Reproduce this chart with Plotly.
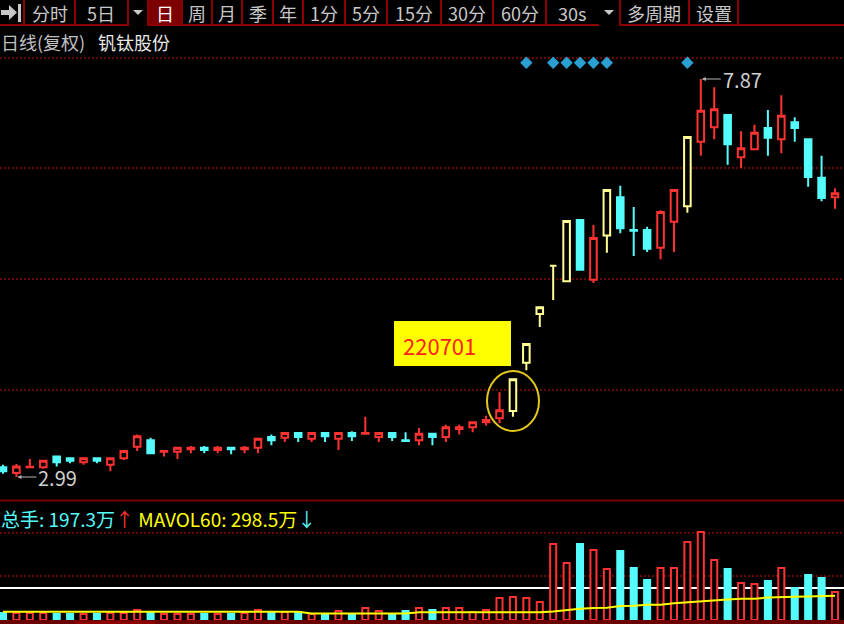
import plotly.graph_objects as go

W, H = 844, 624

# ---------------- data (daily bars, 钒钛股份) ----------------
opens = [3.11, 3.04, 3.11, 3.11, 3.24, 3.22, 3.17, 3.22, 3.14, 3.22,
         3.36, 3.44, 3.30, 3.30, 3.33, 3.35, 3.32, 3.35, 3.33, 3.35,
         3.48, 3.47, 3.53, 3.46, 3.53, 3.46, 3.53, 3.52, 3.48, 3.53,
         3.44, 3.44, 3.52, 3.48, 3.58, 3.60, 3.66, 3.71, 3.80, 4.39,
         4.99, 5.58, 5.39, 6.14, 5.41, 5.95, 6.42, 6.02, 6.02, 5.80,
         6.12, 6.31, 7.10, 7.28, 7.43, 6.91, 7.01, 7.27, 7.13, 7.34,
         7.13, 6.66, 6.42]
highs = [3.14, 3.15, 3.21, 3.19, 3.24, 3.22, 3.22, 3.22, 3.22, 3.31,
         3.51, 3.47, 3.32, 3.35, 3.37, 3.37, 3.37, 3.36, 3.37, 3.47,
         3.51, 3.54, 3.54, 3.53, 3.54, 3.53, 3.55, 3.73, 3.54, 3.53,
         3.54, 3.59, 3.52, 3.63, 3.63, 3.66, 3.74, 4.03, 4.19, 4.62,
         5.07, 5.58, 6.13, 6.15, 6.08, 6.51, 6.56, 6.30, 6.06, 6.26,
         6.51, 7.16, 7.87, 7.77, 7.43, 7.23, 7.31, 7.49, 7.67, 7.40,
         7.13, 6.93, 6.53]
lows = [3.03, 2.99, 3.11, 3.09, 3.12, 3.16, 3.14, 3.16, 3.06, 3.20,
        3.31, 3.27, 3.24, 3.21, 3.28, 3.28, 3.28, 3.27, 3.28, 3.28,
        3.38, 3.42, 3.42, 3.42, 3.42, 3.32, 3.43, 3.51, 3.42, 3.43,
        3.42, 3.38, 3.38, 3.42, 3.51, 3.54, 3.62, 3.65, 3.73, 4.30,
        4.83, 5.16, 5.38, 5.52, 5.37, 5.74, 5.98, 5.70, 5.75, 5.66,
        5.75, 6.23, 6.93, 7.13, 6.82, 6.78, 7.00, 6.93, 6.96, 7.10,
        6.55, 6.37, 6.28]
closes = [3.06, 3.12, 3.115, 3.19, 3.17, 3.19, 3.22, 3.19, 3.22, 3.31,
          3.49, 3.28, 3.31, 3.35, 3.35, 3.32, 3.35, 3.33, 3.35, 3.46,
          3.44, 3.53, 3.48, 3.53, 3.49, 3.53, 3.49, 3.53, 3.53, 3.48,
          3.43, 3.52, 3.48, 3.60, 3.60, 3.66, 3.69, 3.81, 4.19, 4.62,
          5.07, 5.58, 6.13, 5.53, 5.92, 6.51, 6.04, 6.01, 5.79, 6.24,
          6.51, 7.16, 7.48, 7.50, 7.07, 7.02, 7.21, 7.15, 7.42, 7.27,
          6.67, 6.41, 6.47]
# r = rising, c = falling, y = limit-up day
kinds = ['c', 'r', 'r', 'r', 'c', 'c', 'r', 'c', 'r', 'r',
         'r', 'c', 'r', 'r', 'r', 'c', 'r', 'c', 'r', 'r',
         'c', 'r', 'c', 'r', 'c', 'r', 'c', 'r', 'r', 'c',
         'c', 'r', 'c', 'r', 'r', 'r', 'r', 'r', 'y', 'y',
         'y', 'y', 'y', 'c', 'r', 'y', 'c', 'c', 'c', 'r',
         'r', 'y', 'r', 'r', 'c', 'r', 'r', 'c', 'r', 'c',
         'c', 'c', 'r']
# volume (万手)
volumes = [49.4, 49.4, 49.4, 49.4, 42.3, 42.3, 42.3, 42.3, 49.4, 49.4,
           70.5, 49.4, 42.3, 42.3, 42.3, 42.3, 42.3, 42.3, 49.4, 70.5,
           49.4, 56.4, 56.4, 42.3, 42.3, 63.5, 42.3, 84.6, 63.5, 42.3,
           63.5, 84.6, 70.5, 84.6, 84.6, 56.4, 70.5, 155.1, 162.2, 155.1,
           126.9, 535.8, 401.9, 535.8, 493.5, 359.6, 486.5, 366.6, 282.0, 366.6,
           366.6, 549.9, 620.4, 423.0, 359.6, 260.9, 253.8, 275.0, 366.6, 225.6,
           317.3, 296.1, 197.3]
mavol = [58.5, 58.5, 58.5, 58.5, 58.5, 58.5, 58.5, 58.5, 58.5, 58.5,
         58.5, 58.5, 58.5, 58.5, 58.5, 58.5, 58.5, 58.5, 58.5, 58.5,
         58.5, 58.5, 58.5, 46.5, 46.5, 46.5, 46.5, 46.5, 46.5, 46.5,
         46.5, 54.3, 54.3, 54.3, 54.3, 54.3, 54.3, 54.3, 54.3, 54.3,
         54.3, 60.0, 70.5, 79.7, 84.0, 86.7, 98.7, 100.0, 107.9, 108.0,
         118.0, 125.0, 134.0, 143.0, 145.0, 150.0, 150.0, 158.0, 163.0, 164.0,
         166.0, 171.0, 171.0]
mavol60_label = 298.5
vol_ref = 225.6
signal_idx = [39, 41, 42, 43, 44, 45, 51]
signal_level = 8.07
high_idx, high_val = 52, 7.87
low_idx, low_val = 1, 2.99
mark_label = "220701"
stock_name = "钒钛股份"
tabs = ["分时", "5日", "日", "周", "月", "季", "年", "1分", "5分", "15分", "30分", "60分", "30s", "多周期", "设置"]

# ---------------- helpers ----------------
def X(px):
    return px / W

def Y(py):
    return 1 - py / H

FONT = "Noto Sans CJK SC"
RED = "#ff3232"
CYAN = "#54fcfc"
PALEY = "#ffff96"
GRID = "#8c0a0a"
BORDER = "#8b0000"

xs = list(range(len(opens)))
fig = go.Figure()

styles = {'r': (RED, "#000000"), 'c': (CYAN, CYAN), 'y': (PALEY, "#000000")}
for k, (lc, fc) in styles.items():
    idx = [i for i in xs if kinds[i] == k]
    st = dict(line=dict(color=lc, width=2), fillcolor=fc)
    fig.add_trace(go.Candlestick(
        x=idx, open=[opens[i] for i in idx], high=[highs[i] for i in idx],
        low=[lows[i] for i in idx], close=[closes[i] for i in idx],
        increasing=st, decreasing=st, whiskerwidth=0, hoverinfo="skip",
        xaxis="x", yaxis="y"))

fig.add_trace(go.Scatter(x=signal_idx, y=[signal_level] * len(signal_idx), mode="markers",
                         marker=dict(symbol="diamond", size=9.5, color="#2b9ed2"),
                         hoverinfo="skip", xaxis="x", yaxis="y"))

# volume bars
for k in ['up', 'down']:
    idx = [i for i in xs if (kinds[i] == 'c') == (k == 'down')]
    lc = CYAN if k == 'down' else RED
    fc = CYAN if k == 'down' else "#000000"
    fig.add_trace(go.Bar(x=idx, y=[volumes[i] for i in idx], width=0.45,
                         marker=dict(color=fc, line=dict(color=lc, width=2)),
                         hoverinfo="skip", xaxis="x", yaxis="y2"))

fig.add_trace(go.Scatter(x=xs, y=mavol, mode="lines", line=dict(color="#ffff00", width=2),
                         hoverinfo="skip", xaxis="x", yaxis="y2"))

shapes = []
annotations = []

# gridlines
for gy in [58, 168, 279, 390, 533, 576]:
    shapes.append(dict(type="line", xref="paper", yref="paper", x0=0, x1=1, y0=Y(gy), y1=Y(gy),
                       line=dict(color=GRID, width=1.5, dash="2px,2px"), layer="below"))
# panel separator & bottom band
shapes.append(dict(type="line", xref="paper", yref="paper", x0=0, x1=1, y0=Y(500.5), y1=Y(500.5),
                   line=dict(color="#7a0000", width=2)))
shapes.append(dict(type="rect", xref="paper", yref="paper", x0=0, x1=1, y0=Y(624), y1=Y(620),
                   fillcolor="#6a0000", line=dict(width=0)))
shapes.append(dict(type="rect", xref="paper", yref="paper", x0=X(75), x1=X(155), y0=Y(624), y1=Y(621),
                   fillcolor="#8e0000", line=dict(width=0)))
# reference line in volume panel
shapes.append(dict(type="line", xref="paper", yref="y2", x0=0, x1=1, y0=vol_ref, y1=vol_ref,
                   line=dict(color="#ffffff", width=2), layer="below"))

# toolbar
shapes.append(dict(type="rect", xref="paper", yref="paper", x0=0, x1=1, y0=Y(26), y1=Y(24),
                   fillcolor=BORDER, line=dict(width=0)))
shapes.append(dict(type="rect", xref="paper", yref="paper", x0=X(149), x1=X(182), y0=Y(24), y1=Y(0),
                   fillcolor="#7d0000", line=dict(width=0)))
for bx in [24, 75, 128, 148, 182, 212, 242, 273, 303, 345, 387, 441, 493, 546, 620, 689, 738]:
    shapes.append(dict(type="line", xref="paper", yref="paper", x0=X(bx), x1=X(bx), y0=Y(0), y1=Y(25),
                       line=dict(color=BORDER, width=2)))
for (a, b) in [(129, 147), (599, 619)]:
    shapes.append(dict(type="rect", xref="paper", yref="paper", x0=X(a), x1=X(b), y0=Y(27), y1=Y(1),
                       fillcolor="#000000", line=dict(width=0)))
    c = (a + b) / 2
    shapes.append(dict(type="path", xref="paper", yref="paper",
                       path=f"M {X(c-5)},{Y(10)} L {X(c+5)},{Y(10)} L {X(c)},{Y(15)} Z",
                       fillcolor="#c8c8c8", line=dict(width=0)))
# left icon (arrow to bar)
shapes.append(dict(type="path", xref="paper", yref="paper",
                   path=(f"M {X(1)},{Y(10)} L {X(9)},{Y(10)} L {X(9)},{Y(5)} L {X(17)},{Y(12.5)} "
                         f"L {X(9)},{Y(20)} L {X(9)},{Y(15)} L {X(1)},{Y(15)} Z"),
                   fillcolor="#c8c8c8", line=dict(width=0)))
shapes.append(dict(type="rect", xref="paper", yref="paper", x0=X(18), x1=X(21), y0=Y(22), y1=Y(4),
                   fillcolor="#c8c8c8", line=dict(width=0)))

tab_centers = [49.5, 101, 165, 197, 227, 257.5, 288, 324, 366, 414, 467, 520, 572, 654, 714]
for t, cx in zip(tabs, tab_centers):
    annotations.append(dict(x=X(cx), y=Y(12.5), xref="paper", yref="paper", text=t, showarrow=False,
                            xanchor="center", yanchor="middle",
                            font=dict(family=FONT, size=18, color="#ffffff" if t == "日" else "#c8c8c8")))

# second row
annotations.append(dict(x=X(-1), y=Y(42), xref="paper", yref="paper", text="日线(复权)", showarrow=False,
                        xanchor="left", yanchor="middle", font=dict(family=FONT, size=18, color="#c0c0c0")))
annotations.append(dict(x=X(96), y=Y(42), xref="paper", yref="paper", text=stock_name, showarrow=False,
                        xanchor="left", yanchor="middle", font=dict(family=FONT, size=18, color="#e8e8e8")))

# volume label
vol_text = (f"<span style='color:{CYAN}'>总手: {volumes[-1]:.1f}万</span>"
            f"<span style='color:{RED}'>↑</span> "
            f"<span style='color:#ffff00'>MAVOL60: {mavol60_label:.1f}万</span>"
            f"<span style='color:{CYAN}'>↓</span>")
annotations.append(dict(x=X(-1), y=Y(518), xref="paper", yref="paper", text=vol_text, showarrow=False,
                        xanchor="left", yanchor="middle", font=dict(family=FONT, size=19, color=CYAN)))

# high / low markers
for (ix, val) in [(high_idx, high_val), (low_idx, low_val)]:
    annotations.append(dict(x=ix, y=val, xref="x", yref="y", text=f"{val:.2f}", showarrow=True,
                            ax=20, ay=0, arrowhead=2, arrowsize=0.8, arrowwidth=1, arrowcolor="#b4b4b4",
                            standoff=1, xanchor="left", yanchor="middle",
                            font=dict(family=FONT, size=20, color="#d0d0d0")))

# date tag box and circle
shapes.append(dict(type="rect", xref="paper", yref="paper", x0=X(394), x1=X(511), y0=Y(366), y1=Y(321),
                   fillcolor="#ffff00", line=dict(width=0)))
annotations.append(dict(x=X(401), y=Y(345), xref="paper", yref="paper", text=mark_label, showarrow=False,
                        xanchor="left", yanchor="middle", font=dict(family=FONT, size=22, color="#ff2020")))
shapes.append(dict(type="circle", xref="paper", yref="paper", x0=X(487), x1=X(539), y0=Y(431), y1=Y(371),
                   line=dict(color="#e6c81c", width=2)))

fig.update_layout(
    width=W, height=H, margin=dict(l=0, r=0, t=0, b=0),
    paper_bgcolor="#000000", plot_bgcolor="#000000",
    showlegend=False, hovermode=False, barmode="overlay",
    boxgap=0.3, boxgroupgap=0.3,
    xaxis=dict(range=[-0.2236, 62.671], visible=False, rangeslider=dict(visible=False),
               showgrid=False, zeroline=False),
    yaxis=dict(domain=[Y(500), Y(30)], range=[2.708, 8.471], visible=False, showgrid=False, zeroline=False),
    yaxis2=dict(domain=[Y(620), Y(526)], range=[0, 662.7], visible=False, showgrid=False, zeroline=False,
                anchor="x"),
    shapes=shapes, annotations=annotations,
)

fig.write_html("out.html", config={"displayModeBar": False},
               post_script="document.body.style.margin='0';document.body.style.overflow='hidden';"
                           "document.body.style.background='#000';")
